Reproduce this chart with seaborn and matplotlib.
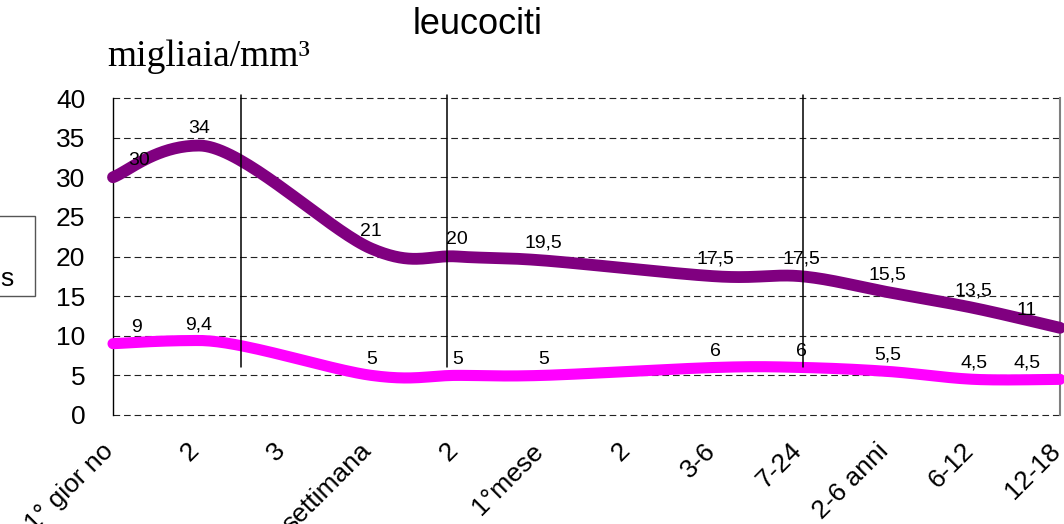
import numpy as np
import pandas as pd
import matplotlib
matplotlib.use("Agg")
import matplotlib.pyplot as plt
from matplotlib.patches import Rectangle
from matplotlib.transforms import ScaledTranslation
import seaborn as sns

# Age classes along the x axis
categories = ["1° gior no", "2", "3", "settimana", "2", "1°mese", "2",
              "3-6", "7-24", "2-6 anni", "6-12", "12-18"]
# Leukocyte counts (thousands per mm3); NaN where no value is given
upper_values = [30, 34, np.nan, 21, 20, 19.5, np.nan, 17.5, 17.5, 15.5, 13.5, 11]
lower_values = [9, 9.4, np.nan, 5, 5, 5, np.nan, 6, 6, 5.5, 4.5, 4.5]
y_ticks = [0, 5, 10, 15, 20, 25, 30, 35, 40]

PURPLE = "#800080"
MAGENTA = "#FF00FF"

sns.set_style("white")
plt.rcParams["font.family"] = ["Liberation Sans", "DejaVu Sans"]
plt.rcParams["text.color"] = "black"
plt.rcParams["xtick.color"] = "black"
plt.rcParams["ytick.color"] = "black"


def smooth_curve(xs, ys, steps=40):
    """Bezier smoothing through the known points (gaps are bridged).

    Tangents follow the neighbouring points; at a strict local peak or
    trough the tangent is kept horizontal so the curve turns at the point.
    """
    xs = np.asarray(xs, float)
    ys = np.asarray(ys, float)
    ok = ~np.isnan(ys)
    px, py = xs[ok], ys[ok]
    n = len(px)
    tx = np.zeros(n)
    ty = np.zeros(n)
    for i in range(n):
        a, b = max(i - 1, 0), min(i + 1, n - 1)
        tx[i] = (px[b] - px[a]) / 6
        ty[i] = (py[b] - py[a]) / 6
        if 0 < i < n - 1:
            d1, d2 = py[i] - py[i - 1], py[i + 1] - py[i]
            if d1 * d2 < 0:
                ty[i] = 0.0
    out_x, out_y = [], []
    t = np.linspace(0, 1, steps)
    for i in range(n - 1):
        x1, y1 = px[i], py[i]
        x2, y2 = px[i + 1], py[i + 1]
        c1x, c1y = x1 + tx[i], y1 + ty[i]
        c2x, c2y = x2 - tx[i + 1], y2 - ty[i + 1]
        bx = ((1 - t) ** 3) * x1 + 3 * ((1 - t) ** 2) * t * c1x + 3 * (1 - t) * t ** 2 * c2x + t ** 3 * x2
        by = ((1 - t) ** 3) * y1 + 3 * ((1 - t) ** 2) * t * c1y + 3 * (1 - t) * t ** 2 * c2y + t ** 3 * y2
        out_x.extend(bx if i == 0 else bx[1:])
        out_y.extend(by if i == 0 else by[1:])
    return np.array(out_x), np.array(out_y)


fig = plt.figure(figsize=(10.64, 5.24), dpi=100)
ax = fig.add_axes([113 / 1064, 109 / 524, 947 / 1064, 317 / 524])

xpos = np.arange(len(categories))

# dashed horizontal grid
for yv in y_ticks:
    ax.axhline(yv, color="#222222", lw=0.8, ls=(0, (6, 3.5)), zorder=1, clip_on=False)

# period separators
for xv in [1.487, 3.88, 8.01]:
    ax.plot([xv, xv], [6, 40.4], color="black", lw=1.1, zorder=4, clip_on=False)

for vals, col, lw in [(upper_values, PURPLE, 8.5), (lower_values, MAGENTA, 8.0)]:
    sx, sy = smooth_curve(xpos, vals)
    df = pd.DataFrame({"x": sx, "y": sy})
    sns.lineplot(data=df, x="x", y="y", color=col, lw=lw, ax=ax, sort=False,
                 estimator=None, zorder=3, clip_on=False,
                 solid_capstyle="round")


def fmt(v):
    return f"{v:g}".replace(".", ",")


def label_series(vals, first_dx, last_dx, dy):
    for i, v in enumerate(vals):
        if np.isnan(v):
            continue
        dx = 0
        if i == 0:
            dx = first_dx
        elif i == len(vals) - 1:
            dx = last_dx
        ax.annotate(fmt(v), (xpos[i], v), xytext=(dx * 0.72, dy * 0.72),
                    textcoords="offset points", ha="center", va="center",
                    fontsize=14, color="black", zorder=5)


label_series(upper_values, 26, -33, 17)
label_series(lower_values, 24, -33, 16)

ax.set_xlim(0, 11)
ax.set_ylim(0, 40)
ax.set_yticks(y_ticks)
ax.set_yticklabels([str(v) for v in y_ticks], fontsize=19)
ax.set_xticks(xpos)
ax.set_xticklabels(categories, fontsize=19, rotation=45, ha="right",
                   va="top", rotation_mode="anchor")
ax.tick_params(axis="y", length=0, pad=20)
ax.tick_params(axis="x", length=0, pad=17)
shift = ScaledTranslation(-12 / 100, 0, fig.dpi_scale_trans)
for lab in ax.get_xticklabels():
    lab.set_transform(lab.get_transform() + shift)
ax.set_xlabel("")
ax.set_ylabel("")

for side in ["top", "bottom"]:
    ax.spines[side].set_visible(False)
ax.spines["left"].set_color("black")
ax.spines["left"].set_linewidth(1.0)
ax.spines["right"].set_color("#808080")
ax.spines["right"].set_linewidth(1.5)

fig.text(478 / 1064, 1 - 25 / 524, "leucociti", ha="center", va="center",
         fontsize=26)
fig.text(107 / 1064, 1 - 57 / 524, "migliaia/mm³", ha="left", va="center",
         fontsize=27, family=["Liberation Serif", "DejaVu Serif"])

# partially visible legend box on the left edge
fig.patches.append(Rectangle((-2 / 1064, 1 - 296 / 524), 37 / 1064, 80 / 524,
                             transform=fig.transFigure, fill=False,
                             edgecolor="#555555", lw=1.0))
fig.text(14 / 1064, 1 - 279 / 524, "s", ha="right", va="center", fontsize=19)

fig.savefig("out.png", dpi=100)
